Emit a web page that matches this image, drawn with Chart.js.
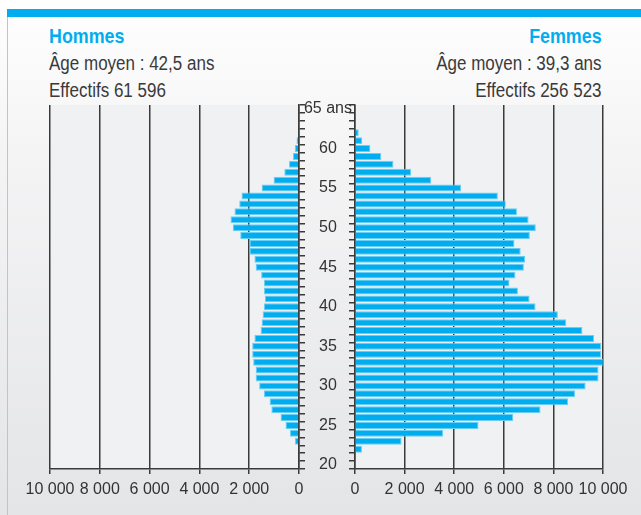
<!DOCTYPE html>
<html>
<head>
<meta charset="utf-8">
<script src="https://cdn.jsdelivr.net/npm/chart.js@4"></script>
<style>
  body { margin: 0; }
  #wrap { position: relative; width: 641px; height: 515px; overflow: hidden;
          background: linear-gradient(#ffffff 0%, #f4f4f5 30%, #e4e5e7 100%); }
  .bar  { position: absolute; left: 7px; top: 9px; width: 634px; height: 8px; background: #00aeef; }
  .edge { position: absolute; left: 7px; top: 17px; width: 1px; height: 498px; background: #8fd5f3; }
  .hdr  { position: absolute; top: 22px; font-family: 'Liberation Sans', Arial, sans-serif; white-space: nowrap;
          font-size: 20px; line-height: 27px; color: #3a3a3a; transform: scaleX(0.85); }
  .hdr b { color: #00aeef; font-size: 21px; }
  .l { left: 49px; transform-origin: 0 0; }
  .r { right: 39px; text-align: right; transform-origin: 100% 0; }
  canvas { position: absolute; top: 0; }
</style>
</head>
<body>
<div id="wrap">
  <div class="bar"></div>
  <div class="edge"></div>
  <div class="hdr l"><b>Hommes</b><br>Âge moyen : 42,5 ans<br>Effectifs 61 596</div>
  <div class="hdr r"><b>Femmes</b><br>Âge moyen : 39,3 ans<br>Effectifs 256 523</div>
  <canvas id="cH" width="310" height="515" style="left:0"></canvas>
  <canvas id="cF" width="352" height="515" style="left:289px"></canvas>
</div>
<script>
// ── data (ages from top to bottom) ────────────────────────────────────────────
const ages = [65, 64, 63, 62, 61, 60, 59, 58, 57, 56, 55, 54, 53, 52, 51, 50, 49, 48, 47, 46, 45, 44, 43,
              42, 41, 40, 39, 38, 37, 36, 35, 34, 33, 32, 31, 30, 29, 28, 27, 26, 25, 24, 23, 22, 21, 20];
const hommes = [0, 0, 0, 40, 100, 170, 240, 400, 590, 1020, 1500, 2310, 2400, 2590, 2750, 2660, 2360, 1990, 1990, 1790, 1740, 1520, 1410,
                1410, 1370, 1410, 1460, 1500, 1540, 1790, 1880, 1880, 1840, 1740, 1740, 1600, 1410, 1180, 1110, 740, 540, 360, 160, 0, 0, 0];
const femmes = [0, 40, 40, 150, 290, 620, 1060, 1550, 2260, 3070, 4280, 5760, 6080, 6530, 7000, 7290, 7050, 6430, 6680, 6860, 6810, 6470, 6230,
                6570, 7040, 7280, 8180, 8520, 9170, 9640, 9930, 9930, 10030, 9820, 9820, 9300, 8870, 8590, 7480, 6380, 4980, 3550, 1880, 280, 0, 0];
const xTicks = [0, 2000, 4000, 6000, 8000, 10000];

const FONT = "'Liberation Sans', Arial, sans-serif";
const INK  = '#333';
const LINE = '#3a3a3a';
const BLUE = '#00aeef';

const fmtNum = v => String(v).replace(/\B(?=(\d{3})+(?!\d))/g, ' ');
const ageLabel = a => a === 65 ? '65 ans' : (a % 5 === 0 ? String(a) : '');

// plot area fill
const plotBg = {
  id: 'plotBg',
  beforeDraw(c) {
    const a = c.chartArea, ctx = c.ctx;
    ctx.save();
    ctx.fillStyle = '#f0f1f3';
    ctx.fillRect(a.left, a.top, a.right - a.left, a.bottom - a.top);
    ctx.restore();
  }
};

function xScale(reverse) {
  return {
    type: 'linear', min: 0, max: 10000, reverse,
    afterBuildTicks: s => { s.ticks = xTicks.map(v => ({ value: v })); },
    afterFit: s => { s.height = 40; },
    grid: { color: LINE, lineWidth: 1.5, tickLength: 5 },
    border: { color: LINE, width: 1.5 },
    ticks: { autoSkip: false, font: { family: FONT, size: 16 }, color: INK, padding: 6, maxRotation: 0, callback: v => fmtNum(v) }
  };
}

function dataset(values) {
  return {
    data: values, backgroundColor: BLUE, borderColor: '#6ccdf3', borderWidth: 1,
    barPercentage: 0.88, categoryPercentage: 1
  };
}

const common = {
  indexAxis: 'y', responsive: false, animation: false,
  plugins: { legend: { display: false }, tooltip: { enabled: false } }
};

// ── Hommes (left, reversed) ─────────────────────────────────────────────────
new Chart(document.getElementById('cH'), {
  type: 'bar',
  data: { labels: ages, datasets: [dataset(hommes)] },
  options: {
    ...common,
    layout: { padding: { top: 105, left: 50, right: 3, bottom: 6 } },
    scales: {
      x: xScale(true),
      y: {
        position: 'right',
        afterFit: s => { s.width = 8; },
        grid: { drawOnChartArea: false, tickLength: 6, color: LINE, lineWidth: 1.5 },
        border: { color: LINE, width: 1.5 },
        ticks: { display: false, autoSkip: false }
      }
    }
  },
  plugins: [plotBg]
});

// ── Femmes (right) + age labels ─────────────────────────────────────────────
new Chart(document.getElementById('cF'), {
  type: 'bar',
  data: { labels: ages, datasets: [dataset(femmes)] },
  options: {
    ...common,
    layout: { padding: { top: 105, left: 0, right: 38, bottom: 6 } },
    scales: {
      x: xScale(false),
      y: {
        position: 'left',
        afterFit: s => { s.width = 66; },
        grid: { drawOnChartArea: false, tickLength: 6, color: LINE, lineWidth: 1.5 },
        border: { color: LINE, width: 1.5 },
        ticks: {
          autoSkip: false, crossAlign: 'center', padding: -3,
          font: { family: FONT, size: 16 }, color: INK,
          callback: (v, i) => ageLabel(ages[i])
        }
      }
    }
  },
  plugins: [plotBg]
});
</script>
</body>
</html>
